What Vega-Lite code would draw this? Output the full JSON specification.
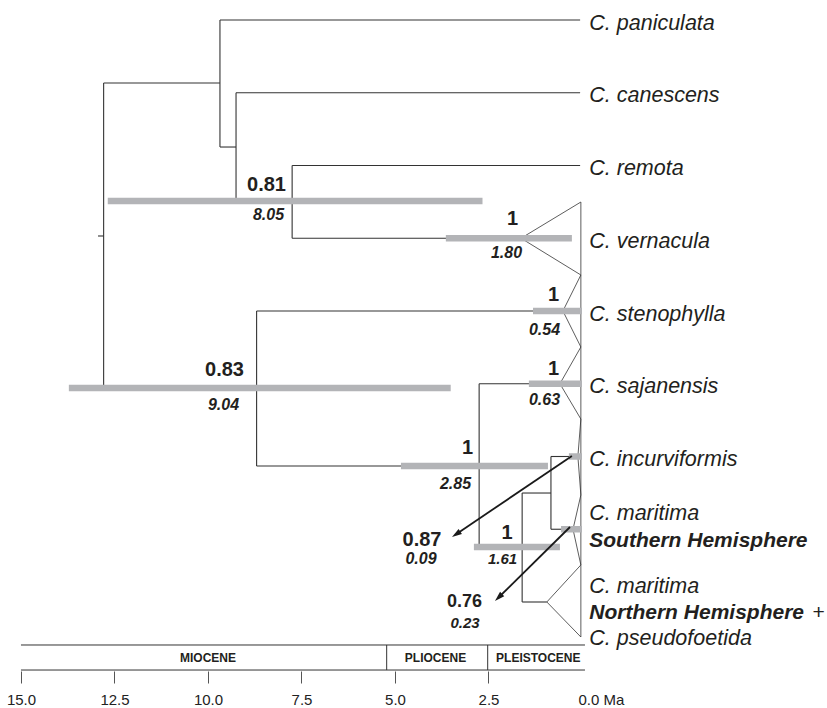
{
  "$schema": "https://vega.github.io/schema/vega-lite/v6.json",
  "width": 827,
  "height": 671,
  "padding": 0,
  "autosize": {"type": "pad"},
  "background": "white",
  "config": {"view": {"stroke": null}, "font": "Liberation Sans"},
  "datasets": {
    "branches": [
      {"x": 12.94, "y": 2.969, "x2": 12.79, "y2": 2.969},
      {"x": 12.79, "y": 0.866, "x2": 12.79, "y2": 5.058},
      {"x": 12.79, "y": 0.866, "x2": 9.68, "y2": 0.866},
      {"x": 9.68, "y": 0, "x2": 9.68, "y2": 1.746},
      {"x": 9.68, "y": 0, "x2": 0.05, "y2": 0},
      {"x": 9.68, "y": 1.746, "x2": 9.25, "y2": 1.746},
      {"x": 9.25, "y": 1, "x2": 9.25, "y2": 2.488},
      {"x": 9.25, "y": 1, "x2": 0.05, "y2": 1},
      {"x": 9.25, "y": 2.488, "x2": 7.75, "y2": 2.488},
      {"x": 7.75, "y": 2, "x2": 7.75, "y2": 3},
      {"x": 7.75, "y": 2, "x2": 0.05, "y2": 2},
      {"x": 7.75, "y": 3, "x2": 1.63, "y2": 3},
      {"x": 12.79, "y": 5.058, "x2": 8.7, "y2": 5.058},
      {"x": 8.7, "y": 4, "x2": 8.7, "y2": 6.131},
      {"x": 8.7, "y": 4, "x2": 0.51, "y2": 4},
      {"x": 8.7, "y": 6.131, "x2": 2.75, "y2": 6.131},
      {"x": 2.75, "y": 5, "x2": 2.75, "y2": 7.244},
      {"x": 2.75, "y": 5, "x2": 0.59, "y2": 5},
      {"x": 2.75, "y": 7.244, "x2": 1.6, "y2": 7.244},
      {"x": 1.6, "y": 6.502, "x2": 1.6, "y2": 8},
      {"x": 1.6, "y": 6.502, "x2": 0.83, "y2": 6.502},
      {"x": 0.83, "y": 6, "x2": 0.83, "y2": 7},
      {"x": 0.83, "y": 6, "x2": 0.11, "y2": 6},
      {"x": 0.83, "y": 7, "x2": 0.24, "y2": 7},
      {"x": 1.6, "y": 8, "x2": 0.94, "y2": 8}
    ],
    "triangles": [
      {"x": 1.63, "y": 3, "x2": 0.03, "y2": 2.502},
      {"x": 1.63, "y": 3, "x2": 0.03, "y2": 3.505},
      {"x": 0.51, "y": 4, "x2": 0.03, "y2": 3.505},
      {"x": 0.51, "y": 4, "x2": 0.03, "y2": 4.495},
      {"x": 0.59, "y": 5, "x2": 0.03, "y2": 4.495},
      {"x": 0.59, "y": 5, "x2": 0.03, "y2": 5.485},
      {"x": 0.11, "y": 6, "x2": 0.03, "y2": 5.485},
      {"x": 0.11, "y": 6, "x2": 0.03, "y2": 6.529},
      {"x": 0.24, "y": 7, "x2": 0.03, "y2": 6.529},
      {"x": 0.24, "y": 7, "x2": 0.03, "y2": 7.491},
      {"x": 0.94, "y": 8, "x2": 0.03, "y2": 7.491},
      {"x": 0.94, "y": 8, "x2": 0.03, "y2": 8.481},
      {"x": 0.03, "y": 2.502, "x2": 0.03, "y2": 8.481}
    ],
    "timescale": [
      {"x": 15, "y": 8.591, "x2": -0.08, "y2": 8.591},
      {"x": 15, "y": 8.935, "x2": -0.08, "y2": 8.935},
      {"x": 5.222, "y": 8.591, "x2": 5.222, "y2": 8.935},
      {"x": 2.521, "y": 8.591, "x2": 2.521, "y2": 8.935}
    ],
    "bars": [
      {"x": 12.68, "x2": 2.66, "y": 2.488},
      {"x": 3.64, "x2": 0.27, "y": 3},
      {"x": 1.31, "x2": 0, "y": 4},
      {"x": 13.72, "x2": 3.51, "y": 5.058},
      {"x": 1.42, "x2": 0, "y": 5},
      {"x": 4.84, "x2": 0.91, "y": 6.131},
      {"x": 0.35, "x2": 0, "y": 6},
      {"x": 0.56, "x2": 0, "y": 7},
      {"x": 2.89, "x2": 0.59, "y": 7.244}
    ],
    "arrows": [
      {"x": 0.27, "y": 5.993, "x2": 3.365, "y2": 7.068},
      {"x": 0.32, "y": 6.969, "x2": 2.231, "y2": 7.938}
    ],
    "arrowheads": [
      {"id": "a1", "x": 3.365, "y": 7.068},
      {"id": "a2", "x": 2.231, "y": 7.938}
    ],
    "posterior": [
      {"x": 8.436, "y": 2.254, "label": "0.81"},
      {"x": 1.858, "y": 2.722, "label": "1"},
      {"x": 0.762, "y": 3.766, "label": "1"},
      {"x": 0.762, "y": 4.79, "label": "1"},
      {"x": 9.559, "y": 4.797, "label": "0.83"},
      {"x": 3.061, "y": 5.869, "label": "1"},
      {"x": 2.005, "y": 7.031, "label": "1"},
      {"x": 4.278, "y": 7.134, "label": "0.87"},
      {"x": 3.142, "y": 7.993, "label": "0.76"}
    ],
    "ages": [
      {"x": 8.382, "y": 2.66, "label": "8.05"},
      {"x": 2.019, "y": 3.189, "label": "1.80"},
      {"x": 1.003, "y": 4.241, "label": "0.54"},
      {"x": 1.003, "y": 5.21, "label": "0.63"},
      {"x": 9.586, "y": 5.285, "label": "9.04"},
      {"x": 3.382, "y": 6.364, "label": "2.85"},
      {"x": 2.126, "y": 7.395, "label": "1.61"},
      {"x": 4.305, "y": 7.395, "label": "0.09"},
      {"x": 3.128, "y": 8.275, "label": "0.23"}
    ],
    "taxa": [
      {"x": -0.195, "y": 0, "label": "C. paniculata"},
      {"x": -0.195, "y": 1, "label": "C. canescens"},
      {"x": -0.195, "y": 2, "label": "C. remota"},
      {"x": -0.195, "y": 3, "label": "C. vernacula"},
      {"x": -0.195, "y": 4, "label": "C. stenophylla"},
      {"x": -0.195, "y": 5, "label": "C. sajanensis"},
      {"x": -0.195, "y": 6, "label": "C. incurviformis"},
      {"x": -0.195, "y": 6.742, "label": "C. maritima"},
      {"x": -0.195, "y": 7.746, "label": "C. maritima"},
      {"x": -0.195, "y": 8.46, "label": "C. pseudofoetida"}
    ],
    "regions": [
      {"x": -0.195, "y": 7.113, "label": "Southern Hemisphere"},
      {"x": -0.195, "y": 8.103, "label": "Northern Hemisphere"}
    ],
    "plus": [
      {"x": -6.16, "y": 8.103, "label": "+"}
    ],
    "periods": [
      {"x": 10.0, "y": 8.759, "label": "MIOCENE"},
      {"x": 3.917, "y": 8.759, "label": "PLIOCENE"},
      {"x": 1.168, "y": 8.759, "label": "PLEISTOCENE"}
    ]
  },
  "encoding": {
    "x": {
      "field": "x",
      "type": "quantitative",
      "scale": {"domain": [-6.551, 15.561], "reverse": true, "nice": false, "zero": false},
      "axis": {
        "values": [15, 12.5, 10, 7.5, 5, 2.5, 0],
        "domain": false,
        "grid": false,
        "title": null,
        "tickSize": 12,
        "tickColor": "#555555",
        "tickWidth": 1,
        "tickOpacity": {"condition": {"test": "datum.value == 0", "value": 0}, "value": 1},
        "labelExpr": "datum.value == 0 ? '0.0 Ma' : format(datum.value, '.1f')",
        "labelFont": "Liberation Sans",
        "labelFontSize": 15,
        "labelColor": "#222222",
        "labelPadding": 9,
        "labelAlign": {"condition": {"test": "datum.value == 0", "value": "left"}, "value": "center"},
        "labelOffset": {"condition": {"test": "datum.value == 0", "value": -4}, "value": 0},
        "labelFlush": false,
        "labelOverlap": false,
        "labelBound": false
      }
    },
    "y": {
      "field": "y",
      "type": "quantitative",
      "scale": {"domain": [-0.2749, 8.9485], "reverse": true, "nice": false, "zero": false},
      "axis": null
    }
  },
  "layer": [
    {
      "data": {"name": "branches"},
      "mark": {"type": "rule", "color": "#333333", "strokeWidth": 1.1},
      "encoding": {"x2": {"field": "x2"}, "y2": {"field": "y2"}}
    },
    {
      "data": {"name": "triangles"},
      "mark": {"type": "rule", "color": "#333333", "strokeWidth": 0.8},
      "encoding": {"x2": {"field": "x2"}, "y2": {"field": "y2"}}
    },
    {
      "data": {"name": "timescale"},
      "mark": {"type": "rule", "color": "#333333", "strokeWidth": 1},
      "encoding": {"x2": {"field": "x2"}, "y2": {"field": "y2"}}
    },
    {
      "data": {"name": "bars"},
      "mark": {"type": "rule", "color": "#b3b4b7", "strokeWidth": 6.5},
      "encoding": {"x2": {"field": "x2"}}
    },
    {
      "data": {"name": "arrows"},
      "mark": {"type": "rule", "color": "#1a1a1a", "strokeWidth": 1.8},
      "encoding": {"x2": {"field": "x2"}, "y2": {"field": "y2"}}
    },
    {
      "data": {"name": "arrowheads"},
      "transform": [{"filter": "datum.id == 'a1'"}],
      "mark": {"type": "point", "shape": "M0,-1L-0.6,1L0.6,1Z", "size": 100, "filled": true, "opacity": 1, "color": "#1a1a1a", "angle": 236}
    },
    {
      "data": {"name": "arrowheads"},
      "transform": [{"filter": "datum.id == 'a2'"}],
      "mark": {"type": "point", "shape": "M0,-1L-0.6,1L0.6,1Z", "size": 100, "filled": true, "opacity": 1, "color": "#1a1a1a", "angle": 226}
    },
    {
      "data": {"name": "posterior"},
      "transform": [{"filter": "datum.label != '0.76'"}],
      "mark": {"type": "text", "align": "center", "baseline": "middle", "dy": 1, "fontSize": 20, "fontWeight": "bold", "color": "#231f20", "font": "Liberation Sans"},
      "encoding": {"text": {"field": "label"}}
    },
    {
      "data": {"name": "posterior"},
      "transform": [{"filter": "datum.label == '0.76'"}],
      "mark": {"type": "text", "align": "center", "baseline": "middle", "dy": 1, "fontSize": 18, "fontWeight": "bold", "color": "#231f20", "font": "Liberation Sans"},
      "encoding": {"text": {"field": "label"}}
    },
    {
      "data": {"name": "ages"},
      "transform": [{"filter": "datum.label != '1.61' && datum.label != '0.23'"}],
      "mark": {"type": "text", "align": "center", "baseline": "middle", "dy": 1, "fontSize": 16, "fontWeight": "bold", "fontStyle": "italic", "color": "#231f20", "font": "Liberation Sans"},
      "encoding": {"text": {"field": "label"}}
    },
    {
      "data": {"name": "ages"},
      "transform": [{"filter": "datum.label == '1.61' || datum.label == '0.23'"}],
      "mark": {"type": "text", "align": "center", "baseline": "middle", "dy": 1, "fontSize": 15, "fontWeight": "bold", "fontStyle": "italic", "color": "#231f20", "font": "Liberation Sans"},
      "encoding": {"text": {"field": "label"}}
    },
    {
      "data": {"name": "taxa"},
      "mark": {"type": "text", "align": "left", "baseline": "middle", "dy": 3.7, "fontSize": 21.5, "fontStyle": "italic", "color": "#231f20", "font": "Liberation Sans"},
      "encoding": {"text": {"field": "label"}}
    },
    {
      "data": {"name": "regions"},
      "mark": {"type": "text", "align": "left", "baseline": "middle", "dy": 3.7, "fontSize": 21, "fontStyle": "italic", "fontWeight": "bold", "color": "#231f20", "font": "Liberation Sans"},
      "encoding": {"text": {"field": "label"}}
    },
    {
      "data": {"name": "plus"},
      "mark": {"type": "text", "align": "left", "baseline": "middle", "dy": 3.7, "fontSize": 21, "color": "#231f20", "font": "Liberation Sans"},
      "encoding": {"text": {"field": "label"}}
    },
    {
      "data": {"name": "periods"},
      "mark": {"type": "text", "align": "center", "baseline": "middle", "dy": 0.7, "fontSize": 12, "fontWeight": "bold", "color": "#231f20", "font": "Liberation Sans"},
      "encoding": {"text": {"field": "label"}}
    }
  ]
}
